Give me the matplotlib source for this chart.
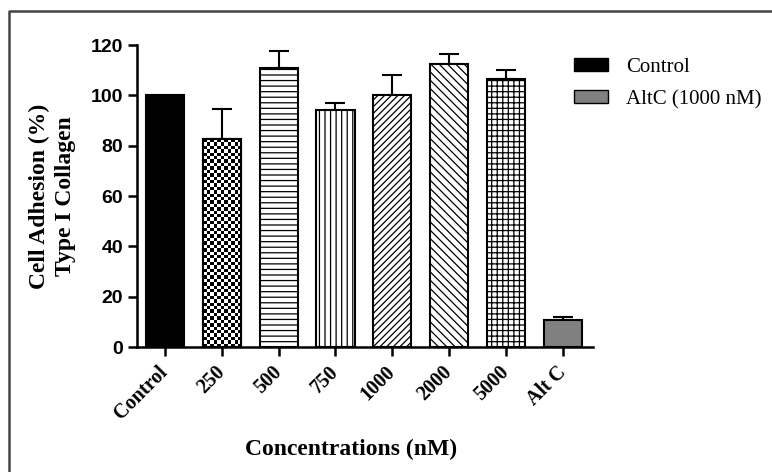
import numpy as np
import matplotlib
matplotlib.use("Agg")
import matplotlib.pyplot as plt
import matplotlib.transforms as mtransforms
from matplotlib.lines import Line2D
from matplotlib.patches import Patch

# Datos
categorias = ["Control", "250", "500", "750", "1000", "2000", "5000", "Alt C"]
adhesion = [100, 82.5, 110.8, 94.0, 100, 112.3, 106.5, 10.7]
error_sup = [0, 12.2, 6.8, 3.1, 7.9, 4.0, 3.7, 1.3]
tramas = [None, "checker", "---", "|||", "/////", "\\\\\\\\", "+++", None]
colores = ["black", "white", "white", "white", "white", "white", "white", "#808080"]
leyenda = ["Control", "AltC (1000 nM)"]

plt.rcParams["hatch.linewidth"] = 0.9
serif = ["Liberation Serif", "DejaVu Serif"]

fig = plt.figure(figsize=(7.72, 4.72), dpi=100)
ax = fig.add_axes([0.1775, 0.2648, 0.5907, 0.6398])

x = np.arange(len(categorias))
ancho = 0.67
for i in range(len(categorias)):
    h = tramas[i] if tramas[i] not in (None, "checker") else None
    ax.bar(x[i], adhesion[i], width=ancho, color=colores[i], edgecolor="black",
           linewidth=1.5, hatch=h, zorder=2)

# tablero de ajedrez para la barra de 250
for i, t in enumerate(tramas):
    if t == "checker":
        nx = 11
        ny = int(round(adhesion[i] / 1.35))
        tablero = (np.add.outer(np.arange(ny), np.arange(nx)) % 2).astype(float)
        x0 = x[i] - ancho / 2
        ax.imshow(tablero, cmap="gray", extent=[x0, x0 + ancho, 0, adhesion[i]],
                  aspect="auto", interpolation="nearest", zorder=2.5, origin="lower")
        ax.bar(x[i], adhesion[i], width=ancho, color="none", edgecolor="black",
               linewidth=1.5, zorder=3)

# barras de error (solo hacia arriba)
for i in range(len(categorias)):
    if error_sup[i] > 0:
        ax.errorbar(x[i], adhesion[i], yerr=[[0], [error_sup[i]]], fmt="none",
                    ecolor="black", elinewidth=1.5, capsize=7, capthick=1.5, zorder=1)

ax.set_xlim(-0.49, 7.53)
ax.set_ylim(0, 120)
ax.set_yticks(range(0, 121, 20))
ax.set_xticks(x)
ax.set_xticklabels(categorias, rotation=45, ha="right", va="center",
                   rotation_mode="anchor", family=serif, fontweight="bold", fontsize=14.5)
desplazar = mtransforms.ScaledTranslation(3 / 100, 0, fig.dpi_scale_trans)
for lab in ax.get_xticklabels():
    lab.set_transform(lab.get_transform() + desplazar)
for lab in ax.get_yticklabels():
    lab.set_family(["Liberation Sans", "DejaVu Sans"])
    lab.set_fontweight("bold")
    lab.set_fontsize(14)

ax.spines["top"].set_visible(False)
ax.spines["right"].set_visible(False)
ax.spines["left"].set_linewidth(1.8)
ax.spines["bottom"].set_linewidth(1.8)
ax.tick_params(axis="both", direction="out", length=6.5, width=1.8, color="black")
ax.tick_params(axis="y", pad=3.5)
ax.tick_params(axis="x", pad=9.5)

ax.set_ylabel("Cell Adhesion (%)\nType I Collagen", family=serif, fontweight="bold",
              fontsize=17, linespacing=1.3)
ax.yaxis.set_label_coords(-0.134, 0.5)
ax.set_xlabel("Concentrations (nM)", family=serif, fontweight="bold", fontsize=17)
ax.xaxis.set_label_coords(0.47, -0.305)

handles = [Patch(facecolor="black", edgecolor="black"),
           Patch(facecolor="#808080", edgecolor="black")]
fig.legend(handles, leyenda, loc="upper left", bbox_to_anchor=(0.7195, 0.917),
           frameon=False, prop={"family": serif, "size": 15},
           handlelength=1.6, handleheight=0.6, handletextpad=0.9, labelspacing=0.62)

# marco exterior (solo lados izquierdo y superior visibles)
izq, arriba = 9 / 772, 1 - 11 / 472
fig.add_artist(Line2D([izq, izq, 1.0], [0.0, arriba, arriba], transform=fig.transFigure,
                      color="#444444", linewidth=1.8))

fig.savefig("out.png", dpi=100, facecolor="white")
